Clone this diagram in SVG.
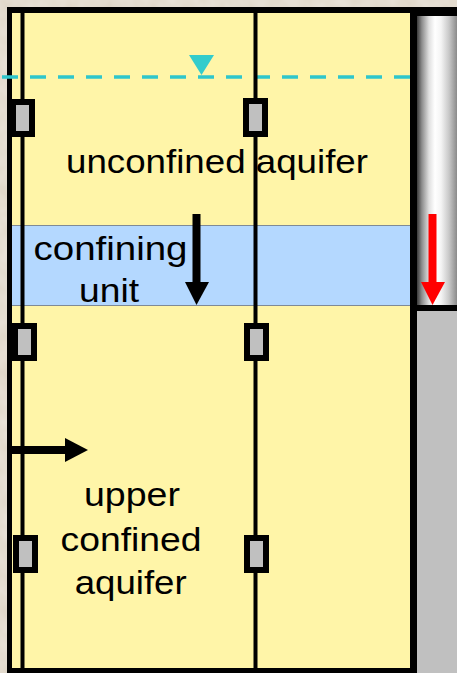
<svg xmlns="http://www.w3.org/2000/svg" width="457" height="673" viewBox="0 0 457 673">
  <style>
    .label { font-family: "Liberation Sans", Arial, sans-serif; font-size: 34px; fill: #000; }
    .well { stroke: #000; stroke-width: 4; fill: none; }
    .screen { fill: #C0C0C0; stroke: #000; stroke-width: 6; }
    .water { stroke: #2FC6CC; stroke-width: 3.5; stroke-dasharray: 16 12; fill: none; }
    .layer-edge { stroke: #7F8A96; stroke-width: 1; }
  </style>
  <defs>
    <filter id="stone" x="0" y="0" width="100%" height="100%">
      <feTurbulence type="fractalNoise" baseFrequency="0.06" numOctaves="3" seed="4" result="noise"/>
      <feColorMatrix in="noise" type="matrix" values="0 0 0 0 0.88  0 0 0 0 0.85  0 0 0 0 0.80  0 0 0 0.6 0" result="tint"/>
      <feComposite in="tint" in2="SourceGraphic" operator="over"/>
    </filter>
    <linearGradient id="casing" x1="0" y1="0" x2="1" y2="0">
      <stop offset="0" stop-color="#3A3A3A"/>
      <stop offset="0.12" stop-color="#8C8C8C"/>
      <stop offset="0.3" stop-color="#E0E0E0"/>
      <stop offset="0.45" stop-color="#FFFFFF"/>
      <stop offset="0.6" stop-color="#F4F4F4"/>
      <stop offset="0.8" stop-color="#C8C8C8"/>
      <stop offset="1" stop-color="#8A8A8A"/>
    </linearGradient>
  </defs>

  <!-- stone backdrop -->
  <rect x="0" y="0" width="457" height="673" fill="#DED5C6" filter="url(#stone)"/>

  <!-- cross-section frame and layers -->
  <g id="section">
    <rect x="7" y="7" width="450" height="666" fill="#000"/>
    <rect id="unconfined" x="12" y="13" width="398" height="655" fill="#FFF5A8"/>
    <g id="confining-unit">
      <rect x="12" y="225.5" width="398" height="80" fill="#B4D8FF"/>
      <line class="layer-edge" x1="12" y1="225.5" x2="410" y2="225.5"/>
      <line class="layer-edge" x1="12" y1="305.5" x2="410" y2="305.5"/>
    </g>
  </g>

  <!-- observation column on the right -->
  <g id="column">
    <rect x="417" y="16" width="40" height="289" fill="url(#casing)"/>
    <rect x="417" y="311" width="40" height="362" fill="#C0C0C0"/>
  </g>

  <!-- water table -->
  <g id="water-table">
    <line class="water" x1="2" y1="77" x2="410" y2="77"/>
    <polygon points="189,55 214,55 201.5,75" fill="#33CCCC"/>
  </g>

  <!-- wells with screens -->
  <g id="well-left">
    <line class="well" x1="22.5" y1="13" x2="22.5" y2="668"/>
    <rect class="screen" x="13" y="102" width="19" height="32"/>
    <rect class="screen" x="15" y="326" width="19" height="32"/>
    <rect class="screen" x="16" y="538" width="19" height="32"/>
  </g>
  <g id="well-middle">
    <line class="well" x1="255.5" y1="13" x2="255.5" y2="668"/>
    <rect class="screen" x="246" y="101" width="19" height="33"/>
    <rect class="screen" x="247" y="326" width="19" height="32"/>
    <rect class="screen" x="247" y="538" width="19" height="32"/>
  </g>

  <!-- flow arrows -->
  <g id="connectors">
    <g id="arrow-down-confining" fill="#000">
      <rect x="192.5" y="214" width="8" height="69"/>
      <polygon points="185,282 209,282 196.5,305"/>
    </g>
    <g id="arrow-down-column" fill="#FF0000">
      <rect x="428.5" y="214" width="8" height="69"/>
      <polygon points="421,282 445,282 432.5,305"/>
    </g>
    <g id="arrow-right" fill="#000">
      <rect x="12" y="446" width="54" height="8"/>
      <polygon points="65,438 65,462 88,450"/>
    </g>
  </g>

  <!-- labels -->
  <g id="label-unconfined">
    <text class="label" x="66" y="173" textLength="302" lengthAdjust="spacingAndGlyphs">unconfined aquifer</text>
  </g>
  <g id="label-confining">
    <text class="label" x="33.5" y="260" textLength="154" lengthAdjust="spacingAndGlyphs">confining</text>
    <text class="label" x="79" y="302" textLength="60" lengthAdjust="spacingAndGlyphs">unit</text>
  </g>
  <g id="label-upper-confined">
    <text class="label" x="84" y="506" textLength="96" lengthAdjust="spacingAndGlyphs">upper</text>
    <text class="label" x="60.5" y="551" textLength="141" lengthAdjust="spacingAndGlyphs">confined</text>
    <text class="label" x="74.7" y="594" textLength="112" lengthAdjust="spacingAndGlyphs">aquifer</text>
  </g>
</svg>
